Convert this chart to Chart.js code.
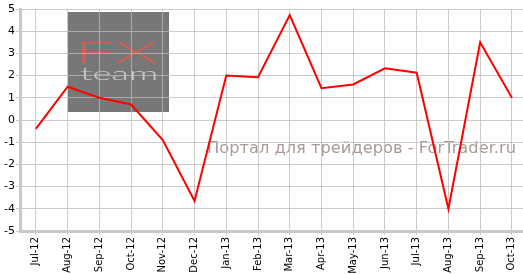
<!DOCTYPE html>
<html>
<head>
<meta charset="utf-8">
<script src="https://cdn.jsdelivr.net/npm/chart.js@4/dist/chart.umd.min.js"></script>
<style>
  html, body { margin: 0; padding: 0; background: #fff; }
  #wrap { width: 523px; height: 274px; }
</style>
</head>
<body>
<div id="wrap"><canvas id="myChart"></canvas></div>
<script>
// months on the x axis
const months = ['Jul-12', 'Aug-12', 'Sep-12', 'Oct-12', 'Nov-12', 'Dec-12', 'Jan-13', 'Feb-13',
  'Mar-13', 'Apr-13', 'May-13', 'Jun-13', 'Jul-13', 'Aug-13', 'Sep-13', 'Oct-13'];
// values
const values = [-0.4, 1.5, 1.0, 0.7, -0.9, -3.65, 2.0, 1.93, 4.73, 1.43, 1.6, 2.33, 2.13, -4.0, 3.5, 1.0];
const yTicks = [-5, -4, -3, -2, -1, 0, 1, 2, 3, 4, 5];

const points = values.map((v, i) => ({ x: i, y: v }));

// squeeze a text into a box (left, top, width, height)
function fitText(ctx, txt, x, y, w, h) {
  const m = ctx.measureText(txt);
  const tw = m.actualBoundingBoxLeft + m.actualBoundingBoxRight;
  const th = m.actualBoundingBoxAscent + m.actualBoundingBoxDescent;
  ctx.save();
  ctx.translate(x, y);
  ctx.scale(w / tw, h / th);
  ctx.fillText(txt, m.actualBoundingBoxLeft, m.actualBoundingBoxAscent);
  ctx.restore();
}

// watermarks: grey logo box (under the grid) and portal caption
const watermark = {
  id: 'watermark',
  beforeDraw(chart) {
    const ctx = chart.ctx;
    ctx.save();
    ctx.fillStyle = '#777777';
    ctx.fillRect(68, 12, 101, 100);

    ctx.textAlign = 'left';
    ctx.textBaseline = 'alphabetic';
    ctx.fillStyle = '#d2604f';
    ctx.font = '300 28px Lato';
    fitText(ctx, 'FX', 80, 42, 77, 21);

    ctx.fillStyle = '#cfcfcf';
    ctx.font = '300 22px Lato';
    fitText(ctx, 'team', 80, 68, 77, 12);

    ctx.fillStyle = '#a99a98';
    ctx.font = '15px "DejaVu Sans"';
    const txt = 'Портал для трейдеров - ForTrader.ru';
    const w = ctx.measureText(txt).width;
    ctx.save();
    ctx.translate(207, 153);
    ctx.scale(309 / w, 1);
    ctx.fillText(txt, 0, 0);
    ctx.restore();
    ctx.restore();
  }
};

new Chart(document.getElementById('myChart'), {
  type: 'line',
  data: {
    datasets: [{
      data: points,
      borderColor: '#ff0000',
      borderWidth: 2,
      pointRadius: 0,
      tension: 0,
      fill: false
    }]
  },
  options: {
    responsive: true,
    maintainAspectRatio: false,
    animation: false,
    layout: { padding: { top: 9, right: 0, left: 0, bottom: 0 } },
    plugins: { legend: { display: false }, tooltip: { enabled: false } },
    scales: {
      x: {
        type: 'linear',
        min: -0.5,
        max: 15.35,
        afterBuildTicks: (axis) => { axis.ticks = months.map((m, i) => ({ value: i })); },
        afterFit: (axis) => {
          axis.height = 43;
          axis.paddingLeft = 0;
          axis.paddingRight = 0;
        },
        ticks: {
          autoSkip: false,
          maxRotation: 90,
          minRotation: 90,
          color: '#000',
          font: { family: 'DejaVu Sans', size: 10 },
          padding: 2,
          callback: (v) => months[v]
        },
        grid: { color: 'rgba(187,187,187,0.75)', lineWidth: 1, tickLength: 4, drawTicks: true },
        border: { color: '#c8c8c8', width: 3 }
      },
      y: {
        min: -5,
        max: 5,
        afterBuildTicks: (axis) => { axis.ticks = yTicks.map(v => ({ value: v })); },
        afterFit: (axis) => {
          axis.width = 20;
          axis.paddingTop = 0;
          axis.paddingBottom = 0;
        },
        ticks: {
          color: '#000',
          font: { family: 'DejaVu Sans', size: 11 },
          padding: 1
        },
        grid: { color: 'rgba(187,187,187,0.75)', lineWidth: 1, tickLength: 4 },
        border: { color: '#c8c8c8', width: 3 }
      }
    }
  },
  plugins: [watermark]
});
</script>
</body>
</html>
